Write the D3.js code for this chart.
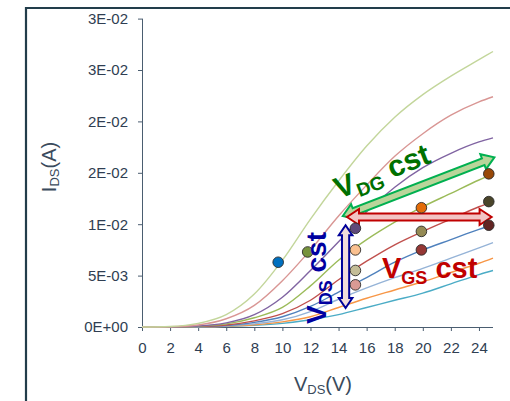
<!DOCTYPE html>
<html>
<head>
<meta charset="utf-8">
<script src="https://cdn.jsdelivr.net/npm/d3@7"></script>
<style>
  html, body { margin: 0; padding: 0; background: #fff; }
  svg { display: block; font-family: "Liberation Sans", Arial, sans-serif; }
</style>
</head>
<body>
<svg id="chart" width="510" height="401"></svg>
<script>
// ---------- data ----------
const vds = [0, 2, 4, 6, 8, 10, 12, 14, 16, 18, 20, 22, 24, 25];
const s1 = [0, 0.00005, 0.00035, 0.0012, 0.0032, 0.0065, 0.0105, 0.0142, 0.0176, 0.0204, 0.0226, 0.0244, 0.0260, 0.0268];
const s2 = [0, 0.00003, 0.0002, 0.0008, 0.0021, 0.0045, 0.0075, 0.0108, 0.0138, 0.0166, 0.0188, 0.0206, 0.0219, 0.0224];
const s3 = [0, 0.00002, 0.0001, 0.0004, 0.0012, 0.0029, 0.0055, 0.0083, 0.0112, 0.0136, 0.0155, 0.0169, 0.0180, 0.0184];
const s4 = [0, 0.00002, 0.00008, 0.0003, 0.0009, 0.0019, 0.0040, 0.0065, 0.0085, 0.0102, 0.0117, 0.0130, 0.0143, 0.0149];
const s5 = [0, 0.00001, 0.00006, 0.0002, 0.0006, 0.0013, 0.0026, 0.0046, 0.0064, 0.0080, 0.0093, 0.0105, 0.0117, 0.0122];
const s6 = [0, 0.00001, 0.00004, 0.00015, 0.00045, 0.0010, 0.0020, 0.0034, 0.0048, 0.0063, 0.0075, 0.0085, 0.0095, 0.0099];
const s7 = [0, 0.00001, 0.00003, 0.0001, 0.0003, 0.0007, 0.0015, 0.0027, 0.0038, 0.0048, 0.0057, 0.0067, 0.0077, 0.0082];
const s8 = [0, 0.00001, 0.00002, 0.00008, 0.00022, 0.0005, 0.0010, 0.0019, 0.0028, 0.0036, 0.0044, 0.0053, 0.0062, 0.0067];
const s9 = [0, 0, 0.00002, 0.00006, 0.00016, 0.00035, 0.0007, 0.0012, 0.0019, 0.0026, 0.0033, 0.0042, 0.0051, 0.0055];
const seriesList = [s9, s8, s7, s6, s5, s4, s3, s2, s1];
const seriesColors = ["#4bacc6", "#f79646", "#95b3d7", "#4f81bd", "#c0504d", "#9bbb59", "#8064a2", "#d99694", "#c3d69b"];

// highlighted operating points
const dotX = [9.7, 11.8, 15.2, 15.2, 15.2, 15.2, 19.9, 19.9, 19.9, 24.7, 24.7, 24.7];
const dotY = [0.0063, 0.0073, 0.0096, 0.0075, 0.0055, 0.0041, 0.0116, 0.0093, 0.0075, 0.0149, 0.0122, 0.0099];
const dotColors = ["#0070c0", "#77933c", "#5f497a", "#fac090", "#c4bd97", "#d99a94", "#e36c09", "#948a54", "#953735", "#984807", "#4a452a", "#632523"];

const xTicks = [0, 2, 4, 6, 8, 10, 12, 14, 16, 18, 20, 22, 24];
const yTicks = [0, 0.005, 0.01, 0.015, 0.02, 0.025, 0.03];
const yTickLabels = ["0E+00", "5E-03", "1E-02", "2E-02", "2E-02", "3E-02", "3E-02"];

// annotation arrows (data coords): [x0, y0, x1, y1]
const arrowDG = [14.3, 0.0108, 25.1, 0.0165];
const arrowGS = [14.6, 0.0107, 24.9, 0.0107];
const arrowDS = [14.5, 0.0099, 14.5, 0.00185];

// ---------- drawing ----------
const svg = d3.select("#chart");
const x = d3.scaleLinear().domain([0, 25]).range([142, 493]);
const y = d3.scaleLinear().domain([0, 0.03]).range([327, 18.6]);

// frame
svg.append("path")
  .attr("d", "M26,401 L26,8 L510,8")
  .attr("fill", "none").attr("stroke", "#223d4b").attr("stroke-width", 2.2);

const axisColor = "#4a5d70";
const labelColor = "#2f3e52";

const gx = svg.append("g").attr("transform", `translate(0,${y(0)})`)
  .call(d3.axisBottom(x).tickValues(xTicks).tickSize(4).tickSizeOuter(0).tickPadding(11).tickFormat(d3.format("d")));
const gy = svg.append("g").attr("transform", `translate(${x(0)},0)`)
  .call(d3.axisLeft(y).tickValues(yTicks).tickSize(4).tickSizeOuter(0).tickPadding(10).tickFormat((d, i) => yTickLabels[i]));
[gx, gy].forEach(g => {
  g.selectAll("path, line").attr("stroke", axisColor).attr("stroke-width", 1);
  g.selectAll("text").attr("fill", labelColor).attr("font-size", 15).attr("font-family", "Liberation Sans, Arial, sans-serif");
});
gx.select(".domain").attr("d", `M${x(0)},0.5H${x(25)}`);
gy.select(".domain").attr("d", `M0.5,${y(0)}V${y(0.03)}`);

// curves
const line = d3.line().x((d, i) => x(vds[i])).y(d => y(d)).curve(d3.curveMonotoneX);
seriesList.forEach((s, k) => {
  svg.append("path").attr("d", line(s)).attr("fill", "none")
    .attr("stroke", seriesColors[k]).attr("stroke-width", 1.4);
});

// block arrows
function arrowPath(a, w, h, L) {
  const p0 = [x(a[0]), y(a[1])], p1 = [x(a[2]), y(a[3])];
  const dx = p1[0] - p0[0], dy = p1[1] - p0[1], len = Math.hypot(dx, dy);
  const u = [dx / len, dy / len], n = [-u[1], u[0]];
  const P = (base, al, bn) => [base[0] + u[0] * al + n[0] * bn, base[1] + u[1] * al + n[1] * bn];
  const pts = [p0, P(p0, L, h), P(p0, L, w), P(p1, -L, w), P(p1, -L, h), p1,
               P(p1, -L, -h), P(p1, -L, -w), P(p0, L, -w), P(p0, L, -h)];
  return "M" + pts.map(p => p.join(",")).join("L") + "Z";
}
svg.append("path").attr("d", arrowPath(arrowDG, 3.6, 8, 12))
  .attr("fill", "#b9d59a").attr("stroke", "#00b050").attr("stroke-width", 2).attr("stroke-linejoin", "miter");
svg.append("path").attr("d", arrowPath(arrowGS, 3.6, 8, 12))
  .attr("fill", "#f2c4c4").attr("stroke", "#c00000").attr("stroke-width", 2);
svg.append("path").attr("d", arrowPath(arrowDS, 3.6, 6.8, 10))
  .attr("fill", "#f2dcdb").attr("stroke", "#000099").attr("stroke-width", 2);

// dots
svg.selectAll("circle.pt").data(dotX).enter().append("circle")
  .attr("cx", d => x(d)).attr("cy", (d, i) => y(dotY[i])).attr("r", 5.3)
  .attr("fill", (d, i) => dotColors[i]).attr("stroke", "#2b2b2b").attr("stroke-width", 0.9);

// annotation texts
function label(g, main, sub, rest, size, subSize, subShift) {
  const t = g.append("text").attr("font-weight", "bold").attr("font-size", size);
  t.append("tspan").text(main);
  t.append("tspan").attr("font-size", subSize).attr("dy", subShift).text(sub);
  t.append("tspan").attr("dy", -subShift).text(rest);
  return t;
}
const gDG = svg.append("g").attr("transform", "translate(339,199) rotate(-21.5)").attr("fill", "#007000");
label(gDG, "V", "DG", " cst", 30, 19, 6);
const gGS = svg.append("g").attr("transform", "translate(382,278)").attr("fill", "#c00000");
label(gGS, "V", "GS", " cst", 29, 18, 6);
const gDS = svg.append("g").attr("transform", "translate(326,324) rotate(-90)").attr("fill", "#0000a0");
label(gDS, "V", "DS", " cst", 28, 18, 6);

// axis titles
const yt = svg.append("text").attr("transform", "translate(56,167) rotate(-90)")
  .attr("text-anchor", "middle").attr("fill", "#3a4a5c").attr("font-size", 20);
yt.append("tspan").text("I");
yt.append("tspan").attr("font-size", 13).attr("dy", 3).text("DS");
yt.append("tspan").attr("dy", -3).text("(A)");

const xt = svg.append("text").attr("transform", "translate(323,391)")
  .attr("text-anchor", "middle").attr("fill", "#3a4a5c").attr("font-size", 20);
xt.append("tspan").text("V");
xt.append("tspan").attr("font-size", 13).attr("dy", 3).text("DS");
xt.append("tspan").attr("dy", -3).text("(V)");
</script>
</body>
</html>
